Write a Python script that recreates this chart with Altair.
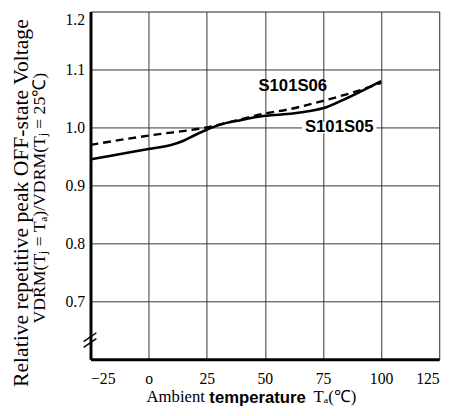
import altair as alt
import pandas as pd

# ---- data ----
temp_s05 = [-25, -15, 0, 10, 15, 20, 25, 30, 40, 50, 62, 70, 75, 85, 100]
val_s05 = [0.945, 0.952, 0.963, 0.970, 0.977, 0.987, 0.996, 1.004, 1.013, 1.020, 1.024, 1.029, 1.033, 1.050, 1.080]
temp_s06 = [-25, 0, 25, 50, 60, 75, 90, 100]
val_s06 = [0.970, 0.986, 1.000, 1.024, 1.031, 1.046, 1.063, 1.077]

label_names = ["S101S06", "S101S05"]
label_x = [62, 82]
label_y = [1.072, 1.0]

x_ticks = [-25, 0, 25, 50, 75, 100, 125]
y_ticks = [0.7, 0.8, 0.9, 1.0, 1.1, 1.2]

ytitle_1 = "Relative repetitive peak OFF-state Voltage"
ytitle_2 = "VDRM(T\u2C7C = T\u2090)/VDRM(T\u2C7C = 25\u2103)"

df05 = pd.DataFrame({"t": temp_s05, "v": val_s05})
df06 = pd.DataFrame({"t": temp_s06, "v": val_s06})
dfl = pd.DataFrame({"name": label_names, "t": label_x, "v": label_y})

SERIF = "Liberation Serif"
SANS = "Liberation Sans"

xs = alt.Scale(domain=[-25, 125], nice=False, zero=False)
ys = alt.Scale(domain=[0.6, 1.2], nice=False, zero=False)

xaxis = alt.Axis(values=x_ticks, grid=True, ticks=False, title=None,
                 labelExpr="datum.value == 0 ? 'o' : (datum.value < 0 ? '\u221225' : datum.label)",
                 labelFont=SERIF, labelFontSize=16, labelColor="black", labelPadding=12,
                 domainColor="black", domainWidth=3, gridColor="#333", gridWidth=1)
yaxis = alt.Axis(values=y_ticks, grid=True, ticks=False, format=".1f", title=None,
                 labelFlush=True,
                 labelFont=SERIF, labelFontSize=16, labelColor="black", labelPadding=6,
                 domainColor="black", domainWidth=3, gridColor="#333", gridWidth=1)

base05 = alt.Chart(df05).mark_line(color="black", strokeWidth=2.6, interpolate="monotone").encode(
    x=alt.X("t:Q", scale=xs, axis=xaxis),
    y=alt.Y("v:Q", scale=ys, axis=yaxis),
)
line06 = alt.Chart(df06).mark_line(color="black", strokeWidth=2.4, strokeDash=[8, 5], interpolate="monotone").encode(
    x=alt.X("t:Q", scale=xs), y=alt.Y("v:Q", scale=ys)
)

bg = alt.Chart(pd.DataFrame({"x1": [66], "x2": [98], "y1": [0.99], "y2": [1.01]})).mark_rect(color="white").encode(
    x=alt.X("x1:Q", scale=xs), x2="x2:Q", y=alt.Y("y1:Q", scale=ys), y2="y2:Q"
)

labels = alt.Chart(dfl).mark_text(font=SANS, fontSize=17, fontWeight="bold", color="black").encode(
    x=alt.X("t:Q", scale=xs), y=alt.Y("v:Q", scale=ys), text="name:N"
)

# axis-break marks
brk = alt.Chart(pd.DataFrame({"k": [0]})).mark_rule(color="black", strokeWidth=1.5).encode(
    x=alt.value(-7), x2=alt.value(6),
    y=alt.value(336), y2=alt.value(327)
)
brk2 = alt.Chart(pd.DataFrame({"k": [0]})).mark_rule(color="black", strokeWidth=1.5).encode(
    x=alt.value(-7), x2=alt.value(6),
    y=alt.value(342), y2=alt.value(333)
)

# y title as two rotated lines
yt1 = alt.Chart(pd.DataFrame({"s": [ytitle_1]})).mark_text(font=SERIF, fontSize=22, angle=270, align="center", baseline="middle", color="black").encode(
    x=alt.value(-71), y=alt.value(195), text="s:N")
yt2 = alt.Chart(pd.DataFrame({"s": [ytitle_2]})).mark_text(font=SERIF, fontSize=18, angle=270, align="center", baseline="middle", color="black").encode(
    x=alt.value(-51), y=alt.value(190), text="s:N")

# x title in mixed fonts
t1 = alt.Chart(pd.DataFrame({"s": ["Ambient"]})).mark_text(font=SERIF, fontSize=17, align="left", baseline="middle", color="black").encode(
    x=alt.value(57), y=alt.value(393), text="s:N")
t2 = alt.Chart(pd.DataFrame({"s": ["temperature"]})).mark_text(font=SANS, fontSize=17, fontWeight="bold", align="left", baseline="middle", color="black").encode(
    x=alt.value(121), y=alt.value(394), text="s:N")
t3 = alt.Chart(pd.DataFrame({"s": ["T\u2090(\u2103)"]})).mark_text(font=SERIF, fontSize=17, align="left", baseline="middle", color="black").encode(
    x=alt.value(227), y=alt.value(393), text="s:N")

chart = alt.layer(base05, line06, bg, labels, brk, brk2, yt1, yt2, t1, t2, t3).properties(
    width=355, height=354,
    autosize=alt.AutoSizeParams(type="none"),
    padding={"left": 84, "top": 0, "right": 13, "bottom": 45},
).configure_view(stroke="black", strokeWidth=2).configure(background="white")

chart.save("out.html", embed_options={"renderer": "svg", "actions": False})
